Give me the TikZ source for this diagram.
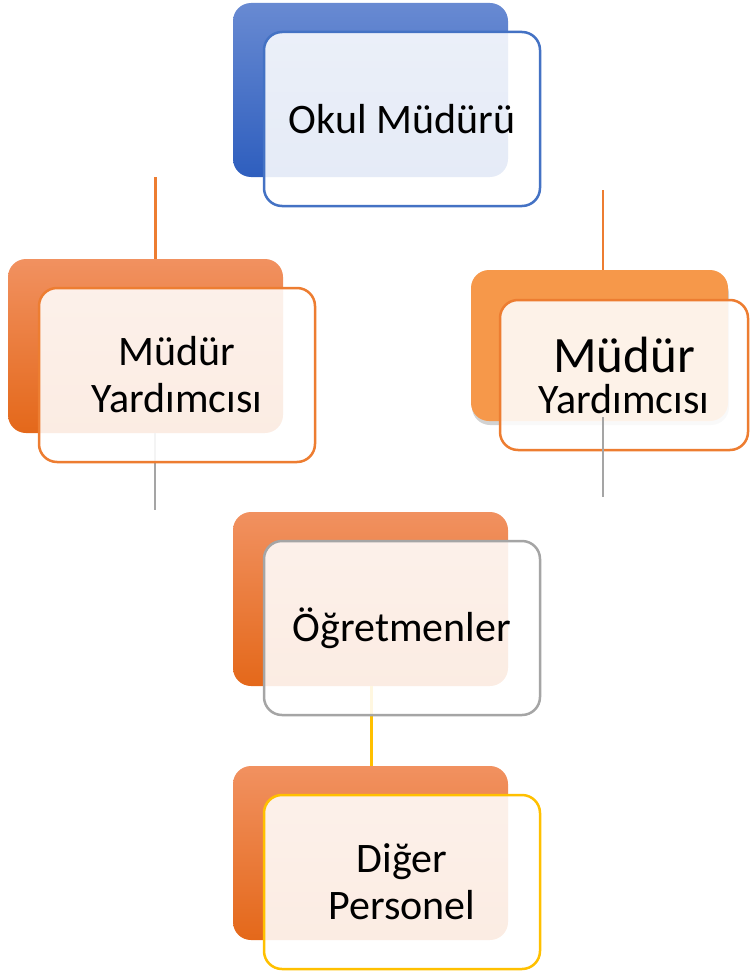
\documentclass[tikz,border=0pt]{standalone}
\usepackage{fontspec}
\setmainfont{Carlito}
\definecolor{maviust}{RGB}{104,138,210}
\definecolor{mavialt}{RGB}{46,94,190}
\definecolor{mavi}{RGB}{68,114,196}
\definecolor{turust}{RGB}{241,145,96}
\definecolor{turalt}{RGB}{228,104,26}
\definecolor{turduz}{RGB}{246,152,74}
\definecolor{turuncu}{RGB}{237,125,49}
\definecolor{gri}{RGB}{165,165,165}
\definecolor{sari}{RGB}{255,192,0}
\begin{document}
\begin{tikzpicture}[x=1pt,y=-1pt,
  arka/.style={rounded corners=18pt,minimum width=275pt,minimum height=174pt,inner sep=0pt},
  mavikutu/.style={arka,top color=maviust,bottom color=mavialt},
  turkutu/.style={arka,top color=turust,bottom color=turalt},
  on/.style={rounded corners=18pt,minimum width=276pt,minimum height=174pt,inner sep=0pt,
    fill=white,fill opacity=0.88,text opacity=1,line width=2.5pt,align=center,
    font=\fontsize{42}{47}\selectfont},
  cizgi/.style={line width=3pt}]
\useasboundingbox (0,0) rectangle (750,971);
\node[mavikutu] (mudur) at (370.5,90) {};
\node[turkutu] (yrd1) at (145.5,346) {};
\fill[gray!35,rounded corners=18pt] (472,276) rectangle (729,425);
\node[arka,minimum width=257pt,minimum height=151pt,fill=turduz] (yrd2) at (599.5,345.5) {};
\node[turkutu] (ogr) at (370.5,599) {};
\node[turkutu] (dig) at (370.5,853) {};
\coordinate (c1) at (155,177);
\coordinate (c2) at (155,510);
\coordinate (c3) at (603,190);
\coordinate (c4) at (603,497);
\coordinate (c5) at (371,0);
\draw[cizgi,turuncu] (c1) -- (c1 |- yrd1.north);
\draw[cizgi,gri,line width=2.5pt] (yrd1.south -| c2) -- (c2);
\draw[cizgi,turuncu,line width=2pt] (c3) -- (c3 |- yrd2.north);
\draw[cizgi,sari] (ogr.south -| c5) -- (dig.north -| c5);
\node[on,draw=mavi] (mudur2) at (402,119) {Okul Müdürü};
\node[on,draw=turuncu] (yrd12) at (177,375) {Müdür\\Yardımcısı};
\node[on,draw=turuncu,minimum width=248pt,minimum height=150pt] (yrd22) at (624,375)
  {{\fontsize{51}{51}\selectfont Müdür}\\[-6pt]{\fontsize{42}{46}\selectfont Yardımcısı}};
\node[on,draw=gri] (ogr2) at (402,628) {Öğretmenler};
\node[on,draw=sari] (dig2) at (402,882) {Diğer\\Personel};
\coordinate (c6) at (603,417);
\draw[gri,line width=2pt] (c6) -- (c4);
\end{tikzpicture}
\end{document}
